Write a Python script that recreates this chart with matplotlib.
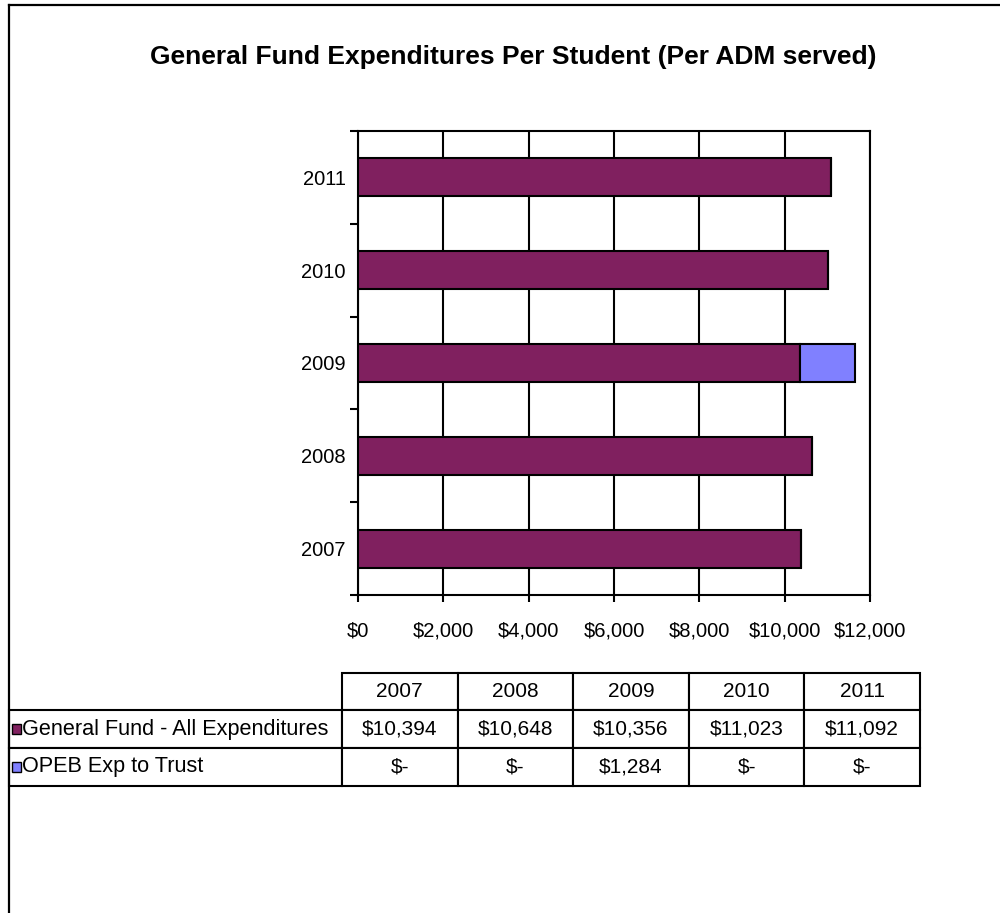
import numpy as np
import matplotlib
matplotlib.use("Agg")
import matplotlib.pyplot as plt
from matplotlib.patches import Rectangle
from matplotlib.lines import Line2D

plt.rcParams['font.family'] = ['Liberation Sans', 'DejaVu Sans']

# data
years = ['2007', '2008', '2009', '2010', '2011']
general_fund = [10394, 10648, 10356, 11023, 11092]
opeb_trust = [0, 0, 1284, 0, 0]
series_names = ['General Fund - All Expenditures', 'OPEB Exp to Trust']
x_ticks = [0, 2000, 4000, 6000, 8000, 10000, 12000]

purple = '#80205F'
blue = '#8080FF'

fig = plt.figure(figsize=(10, 9.13), dpi=100)

# outer frame (top and left only, image is cropped)
fig.add_artist(Line2D([0.009, 1.0], [1 - 5 / 913, 1 - 5 / 913], color='black', lw=1.6))
fig.add_artist(Line2D([0.009, 0.009], [0, 1 - 5 / 913], color='black', lw=1.6))

fig.text(0.513, 1 - 57 / 913, 'General Fund Expenditures Per Student (Per ADM served)',
         ha='center', va='center', fontsize=19, fontweight='bold')

# bar chart
ax = fig.add_axes([0.358, 1 - 595 / 913, 0.512, 464 / 913])
ypos = np.arange(len(years))
ax.barh(ypos, general_fund, height=0.41, color=purple, edgecolor='black', lw=1.5, zorder=3)
ax.barh(ypos, opeb_trust, left=general_fund, height=0.41, color=blue, edgecolor='black',
        lw=1.5, zorder=3)

ax.set_xlim(0, 12000)
ax.set_ylim(-0.5, len(years) - 0.5)
ax.set_xticks(x_ticks)
ax.set_xticklabels(['${:,}'.format(v) for v in x_ticks], fontsize=14.5)
ax.grid(axis='x', color='black', lw=1.5, zorder=1)
ax.tick_params(axis='x', length=5, width=1.5, pad=14)

ax.set_yticks(np.arange(len(years) + 1) - 0.5)
ax.set_yticklabels([])
ax.set_yticks(ypos, minor=True)
ax.set_yticklabels(years, minor=True, fontsize=14.5)
ax.tick_params(axis='y', which='major', length=6, width=1.5)
ax.tick_params(axis='y', which='minor', length=0, pad=9)
for sp in ax.spines.values():
    sp.set_linewidth(1.5)

# data table
tax = fig.add_axes([0.009, 1 - 785.7 / 913, 0.911, 113 / 913])
tax.axis('off')


def fmt(v):
    return '${:,}'.format(v) if v else '$-'


cells = [[''] + years,
         [series_names[0]] + [fmt(v) for v in general_fund],
         [series_names[1]] + [fmt(v) for v in opeb_trust]]
label_w = 333 / 911
col_w = (1 - label_w) / len(years)
tbl = tax.table(cellText=cells, cellLoc='center', bbox=[0, 0, 1, 1],
                colWidths=[label_w] + [col_w] * len(years))
tbl.auto_set_font_size(False)
tbl.set_fontsize(15)
for (r, c), cell in tbl.get_celld().items():
    cell.set_linewidth(1.5)
    if r == 0 and c == 0:
        cell.visible_edges = ''
    if c == 0 and r > 0:
        cell._loc = 'left'
        cell.PAD = 13 / 333
        cell.get_text().set_ha('left')
        cell.get_text().set_fontsize(15.6)

# legend keys in the table
for i, col in enumerate([purple, blue]):
    yc = 0.5 - i / 3
    tax.add_patch(Rectangle((3 / 911, yc - 5 / 113), 9 / 911, 10 / 113, transform=tax.transAxes,
                            facecolor=col, edgecolor='black', lw=1.0, clip_on=False))

fig.savefig('out.png', dpi=100)
